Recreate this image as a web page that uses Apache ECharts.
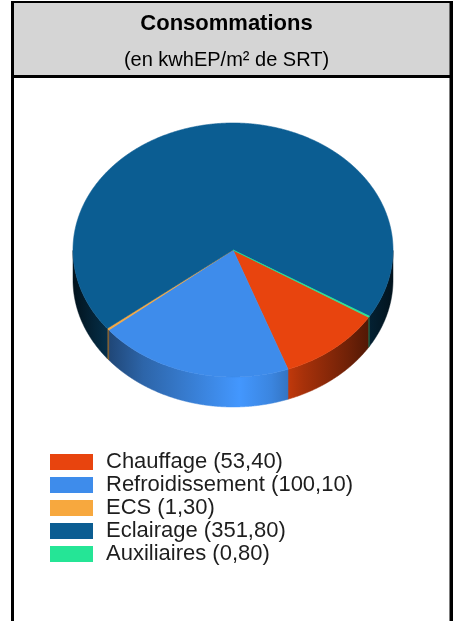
<!DOCTYPE html>
<html>
<head>
<meta charset="utf-8">
<script src="https://cdn.jsdelivr.net/npm/echarts@6/dist/echarts.min.js"></script>
<style>
  html, body { margin: 0; padding: 0; background: #ffffff; }
  #chart { width: 453px; height: 621px; }
</style>
</head>
<body>
<div id="chart"></div>
<script>
// Energy consumption breakdown
const categories = ['Chauffage', 'Refroidissement', 'ECS', 'Eclairage', 'Auxiliaires'];
const values = [53.40, 100.10, 1.30, 351.80, 0.80];
const titleText = 'Consommations';
const subtitleText = '(en kwhEP/m² de SRT)';

// styling
const palette = ['#e8440e', '#3e8ceb', '#f7a83e', '#0b5d92', '#25e596'];
const FONT = "'Liberation Sans', Arial, Helvetica, sans-serif";
const PIE = { cx: 233, cy: 250, r: 160, squash: 127 / 160, depth: 30, startAngle: 328 };

const total = values.reduce((a, b) => a + b, 0);
const starts = [];
values.reduce((acc, v) => { starts.push(acc); return acc + v; }, 0);

function fmt(v) { return v.toFixed(2).replace('.', ','); }

function shade(color, f) {
  const c = echarts.color.parse(color);
  const ch = (k) => Math.max(0, Math.min(255, Math.round(c[k] * f)));
  return 'rgb(' + ch(0) + ',' + ch(1) + ',' + ch(2) + ')';
}

// shading of the cylinder wall, left to right
const wallShade = [[0, 0.2], [0.1, 0.48], [0.22, 0.72], [0.52, 1.08], [0.62, 0.95], [0.72, 0.72], [0.86, 0.48], [1, 0.2]];

function renderSlice(params, api) {
  const s = api.value(0), e = api.value(1);
  const color = api.visual('color');
  const c = api.coord([0, s]);
  const steps = Math.max(2, Math.ceil((e - s) / total * 360 * 4));
  const pts = [];
  const front = [];
  for (let i = 0; i <= steps; i++) {
    const t = s + (e - s) * i / steps;
    const p = api.coord([1, t]);
    pts.push([p[0], c[1] + (p[1] - c[1]) * PIE.squash]);
    front.push(p[1] >= c[1] - 1e-6);
  }
  const children = [];
  const wallFill = new echarts.graphic.LinearGradient(
    PIE.cx - PIE.r, 0, PIE.cx + PIE.r, 0,
    wallShade.map(([o, f]) => ({ offset: o, color: shade(color, f) })), true);
  let run = [];
  const flush = () => {
    if (run.length > 1) {
      const poly = run.concat(run.slice().reverse().map(p => [p[0], p[1] + PIE.depth]));
      children.push({ type: 'polygon', shape: { points: poly },
        style: { fill: wallFill, stroke: wallFill, lineWidth: 0.5 } });
    }
    run = [];
  };
  for (let i = 0; i < pts.length; i++) {
    if (front[i]) run.push(pts[i]); else flush();
  }
  flush();
  children.push({ type: 'polygon', shape: { points: [c].concat(pts) },
    style: { fill: color, stroke: color, lineWidth: 0.6 } });
  return { type: 'group', children };
}

const chart = echarts.init(document.getElementById('chart'), null, { renderer: 'canvas' });

chart.setOption({
  animation: false,
  backgroundColor: '#ffffff',
  polar: { center: [PIE.cx, PIE.cy], radius: PIE.r },
  angleAxis: { type: 'value', min: 0, max: total, startAngle: PIE.startAngle, clockwise: true, show: false },
  radiusAxis: { type: 'value', min: 0, max: 1, show: false },
  legend: {
    orient: 'vertical', left: 50, top: 451, padding: 0,
    itemWidth: 43, itemHeight: 16, itemGap: 1,
    icon: 'rect', selectedMode: false,
    data: categories,
    formatter: (name) => name + ' (' + fmt(values[categories.indexOf(name)]) + ')',
    textStyle: { fontFamily: FONT, fontSize: 22, lineHeight: 22, color: '#1e1e1e', padding: [0, 0, 0, 8] },
    itemStyle: { borderWidth: 0 }
  },
  graphic: [
    { type: 'rect', z: 0, shape: { x: 11, y: 1, width: 442, height: 77 }, style: { fill: '#d5d5d5' } },
    { type: 'rect', z: 1, shape: { x: 11, y: 1, width: 442, height: 2 }, style: { fill: '#000' } },
    { type: 'rect', z: 1, shape: { x: 11, y: 75, width: 442, height: 3 }, style: { fill: '#000' } },
    { type: 'rect', z: 1, shape: { x: 11, y: 1, width: 3, height: 620 }, style: { fill: '#000' } },
    { type: 'rect', z: 1, shape: { x: 449.5, y: 1, width: 3.5, height: 620 }, style: { fill: '#000' } },
    { type: 'text', z: 2, x: 226.5, y: 23.5,
      style: { text: titleText, font: 'bold 22px ' + FONT, fill: '#000', align: 'center', verticalAlign: 'middle' } },
    { type: 'text', z: 2, x: 226.5, y: 60,
      style: { text: subtitleText, font: '20px ' + FONT, fill: '#000', align: 'center', verticalAlign: 'middle' } }
  ],
  series: categories.map((name, i) => ({
    type: 'custom',
    name,
    coordinateSystem: 'polar',
    silent: true,
    itemStyle: { color: palette[i] },
    data: [[starts[i], starts[i] + values[i], values[i]]],
    renderItem: renderSlice
  }))
});
</script>
</body>
</html>
